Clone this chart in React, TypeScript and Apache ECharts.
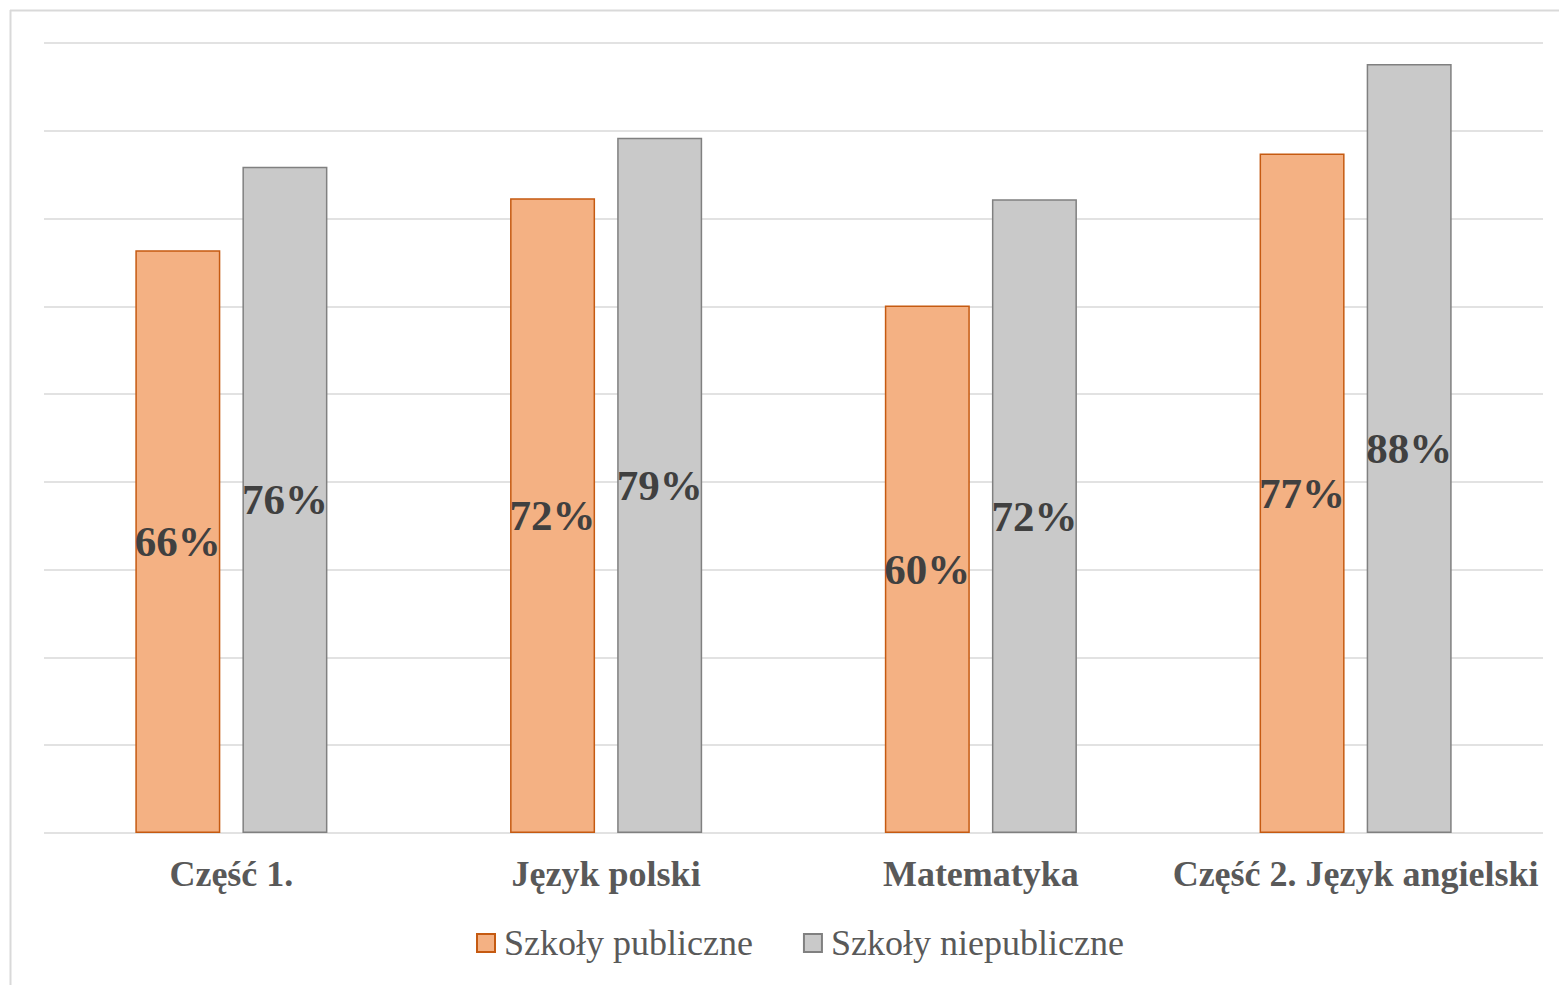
import React, { useEffect, useRef } from "react";
import * as echarts from "echarts";

const categories = ["Część 1.", "Język polski", "Matematyka", "Część 2. Język angielski"];
const publicValues = [66.4, 72.3, 60.1, 77.4];
const nonPublicValues = [75.9, 79.2, 72.2, 87.6];
const seriesNames = ["Szkoły publiczne", "Szkoły niepubliczne"];

export default function App() {
  const ref = useRef<HTMLDivElement>(null);
  useEffect(() => {
    const chart = echarts.init(ref.current!, null, { renderer: "svg" });
    const labelStyle = {
      show: true,
      position: "inside" as const,
      formatter: (p: any) => Math.round(p.value) + "%",
      fontFamily: "Liberation Serif, Times New Roman, serif",
      fontWeight: "bold" as const,
      fontSize: 43,
      color: "#404040",
    };
    chart.setOption({
      animation: false,
      backgroundColor: "#ffffff",
      grid: { left: 44, right: 16, top: 43, bottom: 152, containLabel: false },
      legend: {
        bottom: 24,
        left: 476,
        padding: 0,
        itemWidth: 18,
        itemHeight: 18,
        itemGap: 50,
        icon: "rect",
        textStyle: {
          fontFamily: "Liberation Serif, Times New Roman, serif",
          fontSize: 36,
          color: "#595959",
          padding: [0, 0, 0, 4],
        },
        data: seriesNames,
      },
      xAxis: {
        type: "category",
        data: categories,
        axisLine: { show: false },
        axisTick: { show: false },
        axisLabel: {
          interval: 0,
          margin: 23,
          fontFamily: "Liberation Serif, Times New Roman, serif",
          fontWeight: "bold",
          fontSize: 36,
          color: "#595959",
        },
      },
      yAxis: {
        type: "value",
        min: 0,
        max: 90,
        interval: 10,
        axisLabel: { show: false },
        axisLine: { show: false },
        axisTick: { show: false },
        splitLine: { lineStyle: { color: "#d9d9d9", width: 1.5 } },
      },
      series: [
        {
          name: seriesNames[0],
          type: "bar",
          data: publicValues,
          barWidth: 85,
          barGap: "26%",
          itemStyle: { color: "#F4B183", borderColor: "#C55A11", borderWidth: 1.5 },
          label: labelStyle,
        },
        {
          name: seriesNames[1],
          type: "bar",
          data: nonPublicValues,
          barWidth: 85,
          itemStyle: { color: "#C9C9C9", borderColor: "#808080", borderWidth: 1.5 },
          label: labelStyle,
        },
      ],
      graphic: [
        { type: "line", shape: { x1: 10.5, y1: 10, x2: 10.5, y2: 985 }, style: { stroke: "#d9d9d9", lineWidth: 2 } },
        { type: "line", shape: { x1: 10, y1: 10.5, x2: 1559, y2: 10.5 }, style: { stroke: "#d9d9d9", lineWidth: 2 } },
      ],
    });
    return () => chart.dispose();
  }, []);
  return (
    <div
      ref={ref}
      style={{ position: "fixed", left: 0, top: 0, width: 1559, height: 985, background: "#fff" }}
    />
  );
}
